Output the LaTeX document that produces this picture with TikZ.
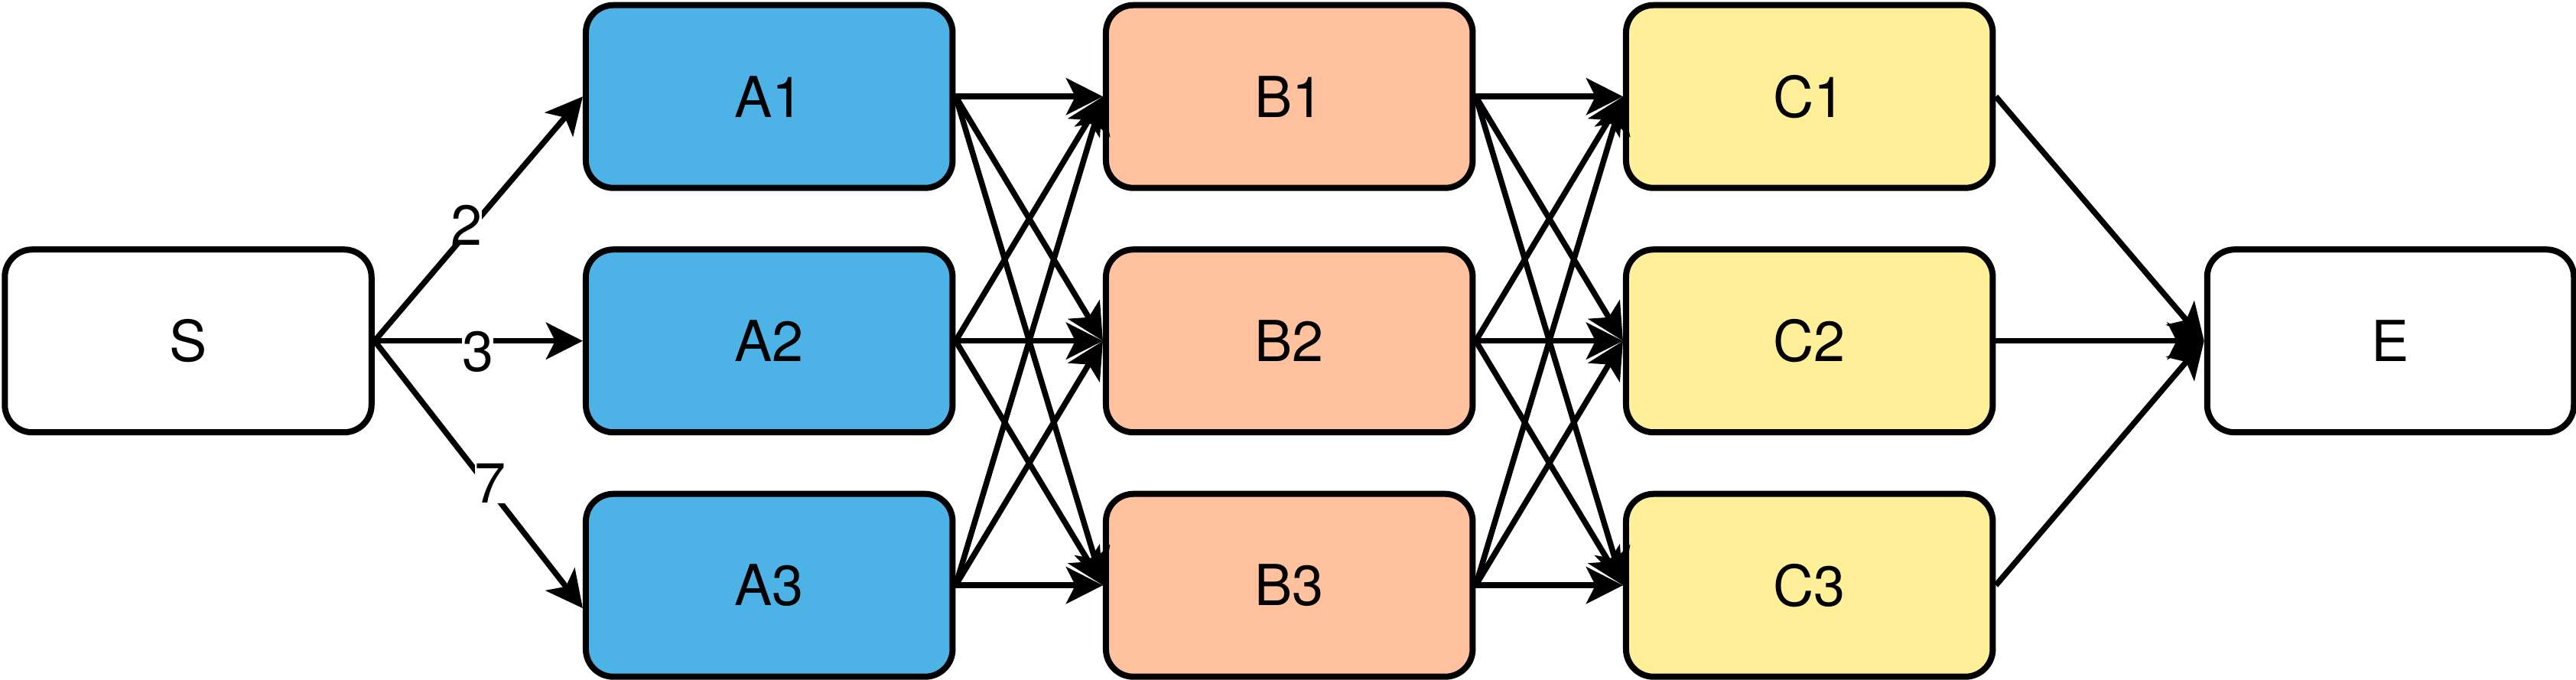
\documentclass[tikz,border=0pt]{standalone}
\usepackage{fontspec}
\setmainfont{TeX Gyre Heros}
\usetikzlibrary{arrows.meta,calc}
\definecolor{ablue}{RGB}{77,179,230}
\definecolor{bsalmon}{RGB}{255,193,158}
\definecolor{cyellow}{RGB}{255,239,153}
\tikzset{
  box/.style={draw, line width=0.08cm, rounded corners=0.36cm,
    minimum width=4.795cm, minimum height=2.39cm, inner sep=0pt,
    font=\fontsize{21}{25}\selectfont},
  conn/.style={line width=0.075cm,
    -{Stealth[length=0.48cm,width=0.48cm,inset=0.12cm]}},
  lbl/.style={fill=white, inner sep=0pt, text height=0.53cm, text depth=0cm,
    font=\fontsize{21}{25}\selectfont}
}
\begin{document}
\begin{tikzpicture}
\useasboundingbox (0,0) rectangle (33.68,-8.88);
% nodes
\node[box] (S) at (2.46,-4.457) {S};
\node[box, fill=ablue] (A1) at (10.057,-1.262) {A1};
\node[box, fill=ablue] (A2) at (10.057,-4.457) {A2};
\node[box, fill=ablue] (A3) at (10.057,-7.652) {A3};
\node[box, fill=bsalmon] (B1) at (16.857,-1.262) {B1};
\node[box, fill=bsalmon] (B2) at (16.857,-4.457) {B2};
\node[box, fill=bsalmon] (B3) at (16.857,-7.652) {B3};
\node[box, fill=cyellow] (C1) at (23.657,-1.262) {C1};
\node[box, fill=cyellow] (C2) at (23.657,-4.457) {C2};
\node[box, fill=cyellow] (C3) at (23.657,-7.652) {C3};
\node[box] (E) at (31.255,-4.457) {E};
% S to A
\draw[conn] (S.east) -- (A1.west) node[lbl, pos=0.5, xshift=-0.16cm, yshift=-0.08cm] (l2) {2};
\draw[conn] (S.east) -- (A2.west) node[lbl, pos=0.5, xshift=-0.01cm, yshift=-0.133cm] (l3) {3};
\draw[conn] (S.east) -- ($(A3.west)+(0,-0.3)$) node[lbl, pos=0.5, xshift=0.156cm, yshift=-0.106cm] (l7) {7};
% A to B, B to C, C to E
\foreach \i in {1,2,3}{
  \foreach \j in {1,2,3}{
    \draw[conn] (A\i.east) -- (B\j.west);
    \draw[conn] (B\i.east) -- (C\j.west);
  }
  \draw[conn] (C\i.east) -- (E.west);
}
\end{tikzpicture}
\end{document}
